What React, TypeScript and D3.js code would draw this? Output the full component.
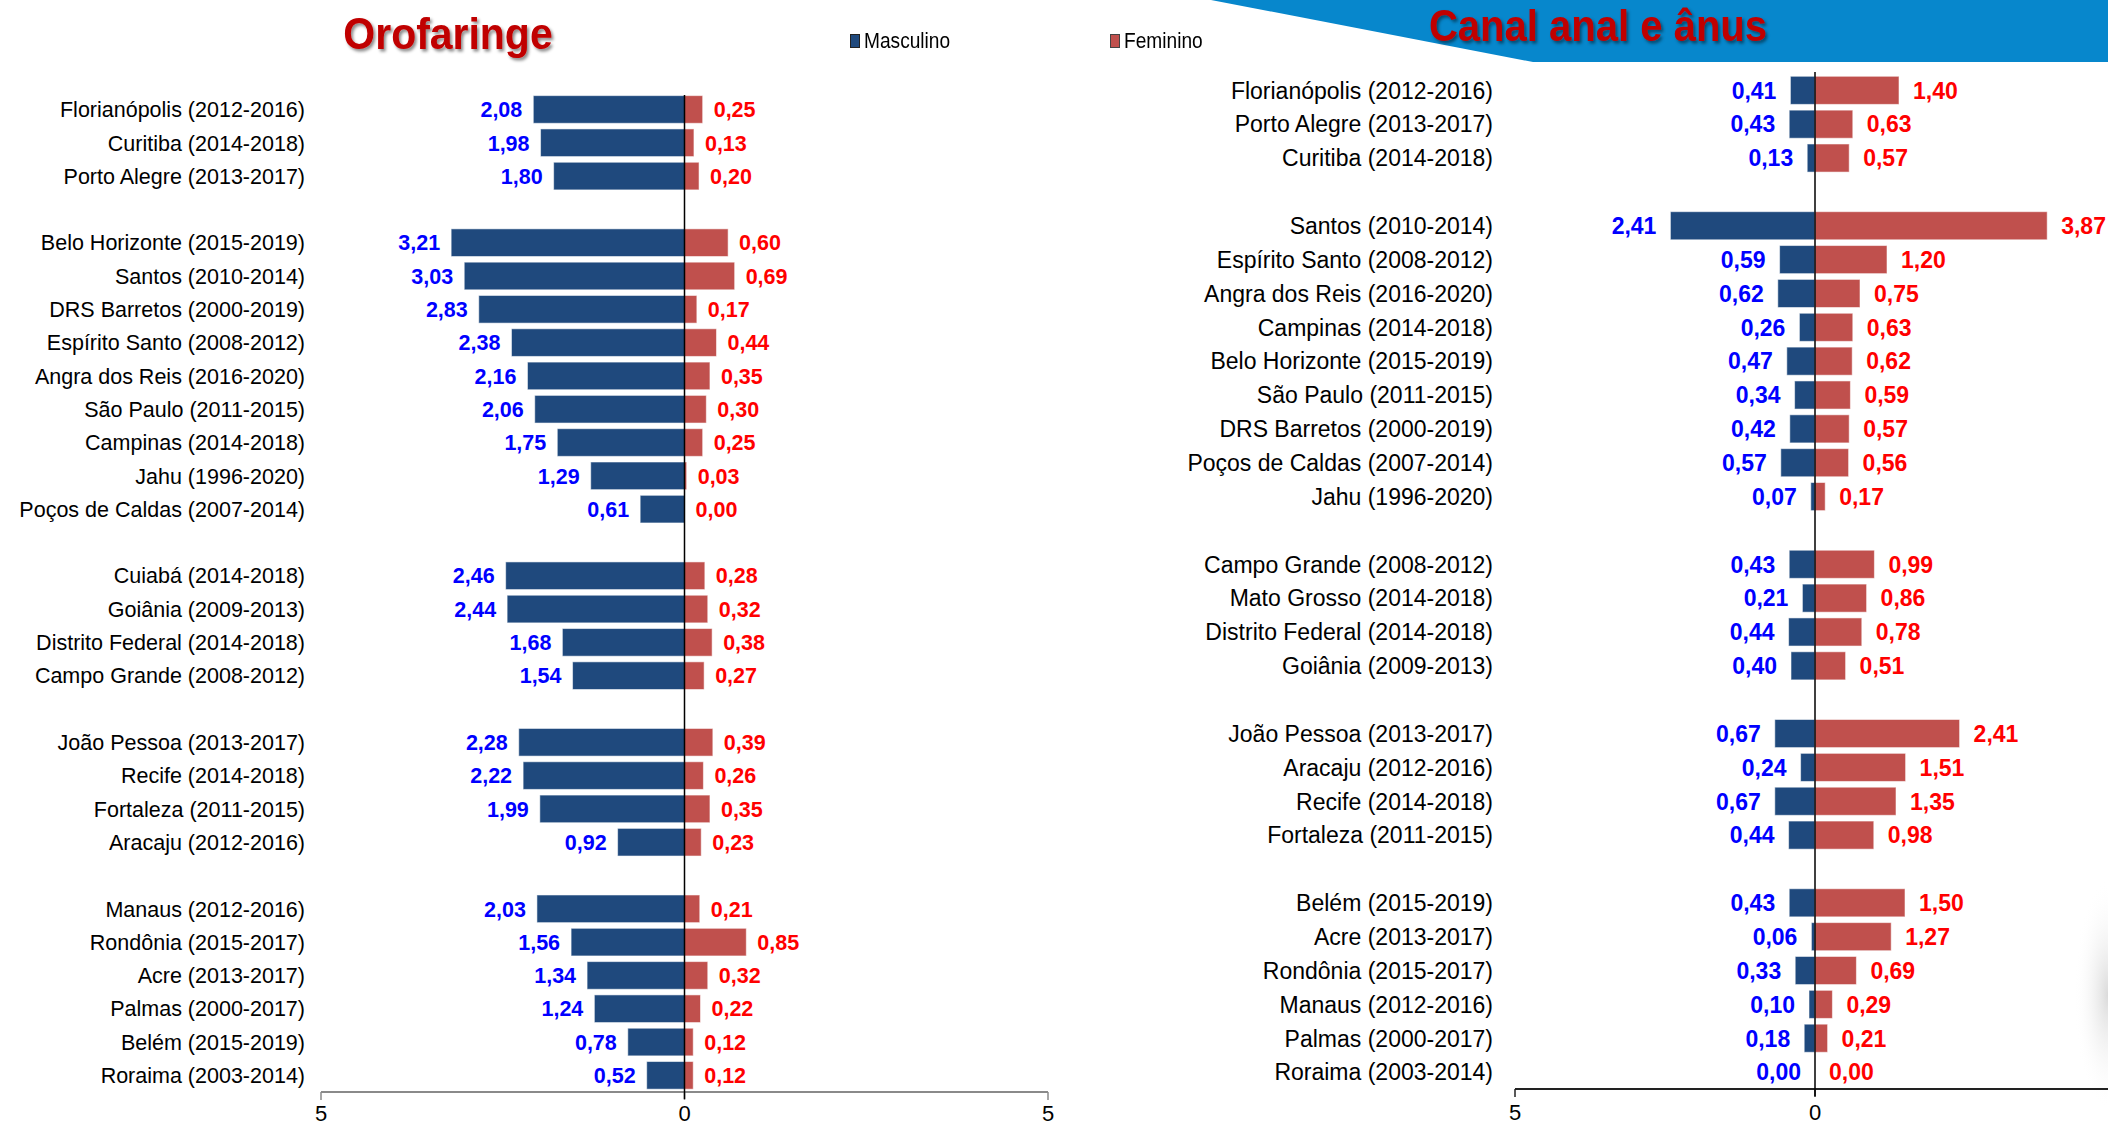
import React from 'react';
import * as d3 from 'd3';

// ---------- DATA ----------
const groupSizes = [3, 9, 4, 4, 6];

const oroCategories = [
  'Florianópolis (2012-2016)', 'Curitiba (2014-2018)', 'Porto Alegre (2013-2017)',
  'Belo Horizonte (2015-2019)', 'Santos (2010-2014)', 'DRS Barretos (2000-2019)',
  'Espírito Santo (2008-2012)', 'Angra dos Reis (2016-2020)', 'São Paulo (2011-2015)',
  'Campinas (2014-2018)', 'Jahu (1996-2020)', 'Poços de Caldas (2007-2014)',
  'Cuiabá (2014-2018)', 'Goiânia (2009-2013)', 'Distrito Federal (2014-2018)', 'Campo Grande (2008-2012)',
  'João Pessoa (2013-2017)', 'Recife (2014-2018)', 'Fortaleza (2011-2015)', 'Aracaju (2012-2016)',
  'Manaus (2012-2016)', 'Rondônia (2015-2017)', 'Acre (2013-2017)', 'Palmas (2000-2017)',
  'Belém (2015-2019)', 'Roraima (2003-2014)',
];
const oroMasculino = [
  2.08, 1.98, 1.80,
  3.21, 3.03, 2.83, 2.38, 2.16, 2.06, 1.75, 1.29, 0.61,
  2.46, 2.44, 1.68, 1.54,
  2.28, 2.22, 1.99, 0.92,
  2.03, 1.56, 1.34, 1.24, 0.78, 0.52,
];
const oroFeminino = [
  0.25, 0.13, 0.20,
  0.60, 0.69, 0.17, 0.44, 0.35, 0.30, 0.25, 0.03, 0.00,
  0.28, 0.32, 0.38, 0.27,
  0.39, 0.26, 0.35, 0.23,
  0.21, 0.85, 0.32, 0.22, 0.12, 0.12,
];

const anusCategories = [
  'Florianópolis (2012-2016)', 'Porto Alegre (2013-2017)', 'Curitiba (2014-2018)',
  'Santos (2010-2014)', 'Espírito Santo (2008-2012)', 'Angra dos Reis (2016-2020)',
  'Campinas (2014-2018)', 'Belo Horizonte (2015-2019)', 'São Paulo (2011-2015)',
  'DRS Barretos (2000-2019)', 'Poços de Caldas (2007-2014)', 'Jahu (1996-2020)',
  'Campo Grande (2008-2012)', 'Mato Grosso (2014-2018)', 'Distrito Federal (2014-2018)', 'Goiânia (2009-2013)',
  'João Pessoa (2013-2017)', 'Aracaju (2012-2016)', 'Recife (2014-2018)', 'Fortaleza (2011-2015)',
  'Belém (2015-2019)', 'Acre (2013-2017)', 'Rondônia (2015-2017)', 'Manaus (2012-2016)',
  'Palmas (2000-2017)', 'Roraima (2003-2014)',
];
const anusMasculino = [
  0.41, 0.43, 0.13,
  2.41, 0.59, 0.62, 0.26, 0.47, 0.34, 0.42, 0.57, 0.07,
  0.43, 0.21, 0.44, 0.40,
  0.67, 0.24, 0.67, 0.44,
  0.43, 0.06, 0.33, 0.10, 0.18, 0.00,
];
const anusFeminino = [
  1.40, 0.63, 0.57,
  3.87, 1.20, 0.75, 0.63, 0.62, 0.59, 0.57, 0.56, 0.17,
  0.99, 0.86, 0.78, 0.51,
  2.41, 1.51, 1.35, 0.98,
  1.50, 1.27, 0.69, 0.29, 0.21, 0.00,
];

const axisTicks = [-5, 0, 5];
const legendLabels = ['Masculino', 'Feminino'];

// ---------- STYLE ----------
const MASC = '#1F497D';
const FEM = '#C0504D';
const MASC_TXT = '#0000FF';
const FEM_TXT = '#FF0000';
const FONT = '"Liberation Sans", Arial, sans-serif';

const fmt = (v: number) => v.toFixed(2).replace('.', ',');

function buildSlots(n: number, sizes: number[]) {
  const slots: string[] = [];
  let i = 0;
  sizes.forEach((s, g) => {
    if (g > 0) slots.push('gap' + g);
    for (let k = 0; k < s && i < n; k++) slots.push('c' + i++);
  });
  return slots;
}

type ChartProps = {
  categories: string[];
  masc: number[];
  fem: number[];
  xRange: [number, number];
  yRange: [number, number];
  labelX: number;
  labelSize: number;
  gap: number;
  axisEnd: number;
  axisColor: string;
  zeroTop: number;
  tickBaseline: number;
};

function Pyramid(p: ChartProps) {
  const x = d3.scaleLinear().domain([-5, 5]).range(p.xRange);
  const slots = buildSlots(p.categories.length, groupSizes);
  const y = d3.scaleBand<string>().domain(slots).range(p.yRange).paddingInner(0.17).paddingOuter(0.085);
  const bw = y.bandwidth();
  const x0 = x(0);
  const axisY = p.yRange[1];
  const visibleTicks = axisTicks.filter((t) => x(t) <= p.axisEnd);
  return (
    <g>
      {p.categories.map((c, i) => {
        const key = 'c' + i;
        const yy = y(key)!;
        const cy = yy + bw / 2;
        const m = p.masc[i];
        const f = p.fem[i];
        return (
          <g key={key}>
            <rect x={x(-m)} y={yy} width={x0 - x(-m)} height={bw} fill={MASC} stroke="rgba(255,255,255,0.55)" strokeWidth={1} />
            <rect x={x0} y={yy} width={x(f) - x0} height={bw} fill={FEM} stroke="rgba(255,255,255,0.55)" strokeWidth={1} />
            <text x={p.labelX} y={cy} dy="0.36em" textAnchor="end" fontSize={p.labelSize} fill="#000">{c}</text>
            <text x={x(-m) - p.gap} y={cy} dy="0.36em" textAnchor="end" fontSize={p.labelSize} fontWeight="bold" fill={MASC_TXT}>{fmt(m)}</text>
            <text x={x(f) + p.gap} y={cy} dy="0.36em" textAnchor="start" fontSize={p.labelSize} fontWeight="bold" fill={FEM_TXT}>{fmt(f)}</text>
          </g>
        );
      })}
      {/* axis */}
      <line x1={x(-5)} x2={p.axisEnd} y1={axisY} y2={axisY} stroke={p.axisColor} strokeWidth={2} />
      {visibleTicks.map((t, i) => (
        <g key={'t' + i}>
          <line x1={x(t)} x2={x(t)} y1={axisY} y2={axisY + 8} stroke={p.axisColor} strokeWidth={1.5} />
          <text x={x(t)} y={p.tickBaseline} textAnchor="middle" fontSize={22} fill="#000">{Math.abs(t)}</text>
        </g>
      ))}
      {/* zero line */}
      <line x1={x0} x2={x0} y1={p.zeroTop} y2={axisY + 7} stroke="#000" strokeWidth={1.5} />
    </g>
  );
}

export default function App() {
  return (
    <svg width={2108} height={1127} style={{ position: 'absolute', left: 0, top: 0, background: '#fff' }} fontFamily={FONT}>
      <defs>
        <filter id="tshadow" x="-10%" y="-20%" width="120%" height="150%">
          <feDropShadow dx="2" dy="2.5" stdDeviation="1.6" floodColor="#000" floodOpacity="0.45" />
        </filter>
        <radialGradient id="edgeShade" cx="1" cy="0.5" r="0.5" fx="1" fy="0.5">
          <stop offset="0" stopColor="#d6d6d6" stopOpacity="0.9" />
          <stop offset="1" stopColor="#ffffff" stopOpacity="0" />
        </radialGradient>
      </defs>
      <rect x={0} y={0} width={2108} height={1127} fill="#fff" />
      {/* banner */}
      <polygon points="1211,0 2108,0 2108,62 1533,62" fill="#0787CC" />
      <rect x={2040} y={880} width={68} height={230} fill="url(#edgeShade)" />

      {/* titles */}
      <g filter="url(#tshadow)">
        <text transform="translate(448,49) scale(0.91,1)" textAnchor="middle" fontSize={45} fontWeight="bold" fill="#C00000">Orofaringe</text>
        <text transform="translate(1598,41) scale(0.91,1)" textAnchor="middle" fontSize={44} fontWeight="bold" fill="#C00000">Canal anal e ânus</text>
      </g>

      {/* legend */}
      <rect x={850.5} y={34.5} width={9} height={13} fill={MASC} stroke="#222" strokeWidth={1} />
      <text transform="translate(864,48) scale(0.87,1)" fontSize={22} fill="#000">{legendLabels[0]}</text>
      <rect x={1110.5} y={34.5} width={9} height={13} fill={FEM} stroke="#444" strokeWidth={1} />
      <text transform="translate(1124,48) scale(0.87,1)" fontSize={22} fill="#000">{legendLabels[1]}</text>

      <Pyramid
        categories={oroCategories}
        masc={oroMasculino}
        fem={oroFeminino}
        xRange={[321, 1048]}
        yRange={[92.8, 1092]}
        labelX={305}
        labelSize={21.5}
        gap={11}
        axisEnd={1048}
        axisColor="#8a8a8a"
        zeroTop={95}
        tickBaseline={1121}
      />
      <Pyramid
        categories={anusCategories}
        masc={anusMasculino}
        fem={anusFeminino}
        xRange={[1515, 2115]}
        yRange={[73.4, 1089]}
        labelX={1493}
        labelSize={23}
        gap={14}
        axisEnd={2108}
        axisColor="#222"
        zeroTop={72}
        tickBaseline={1120}
      />
    </svg>
  );
}
